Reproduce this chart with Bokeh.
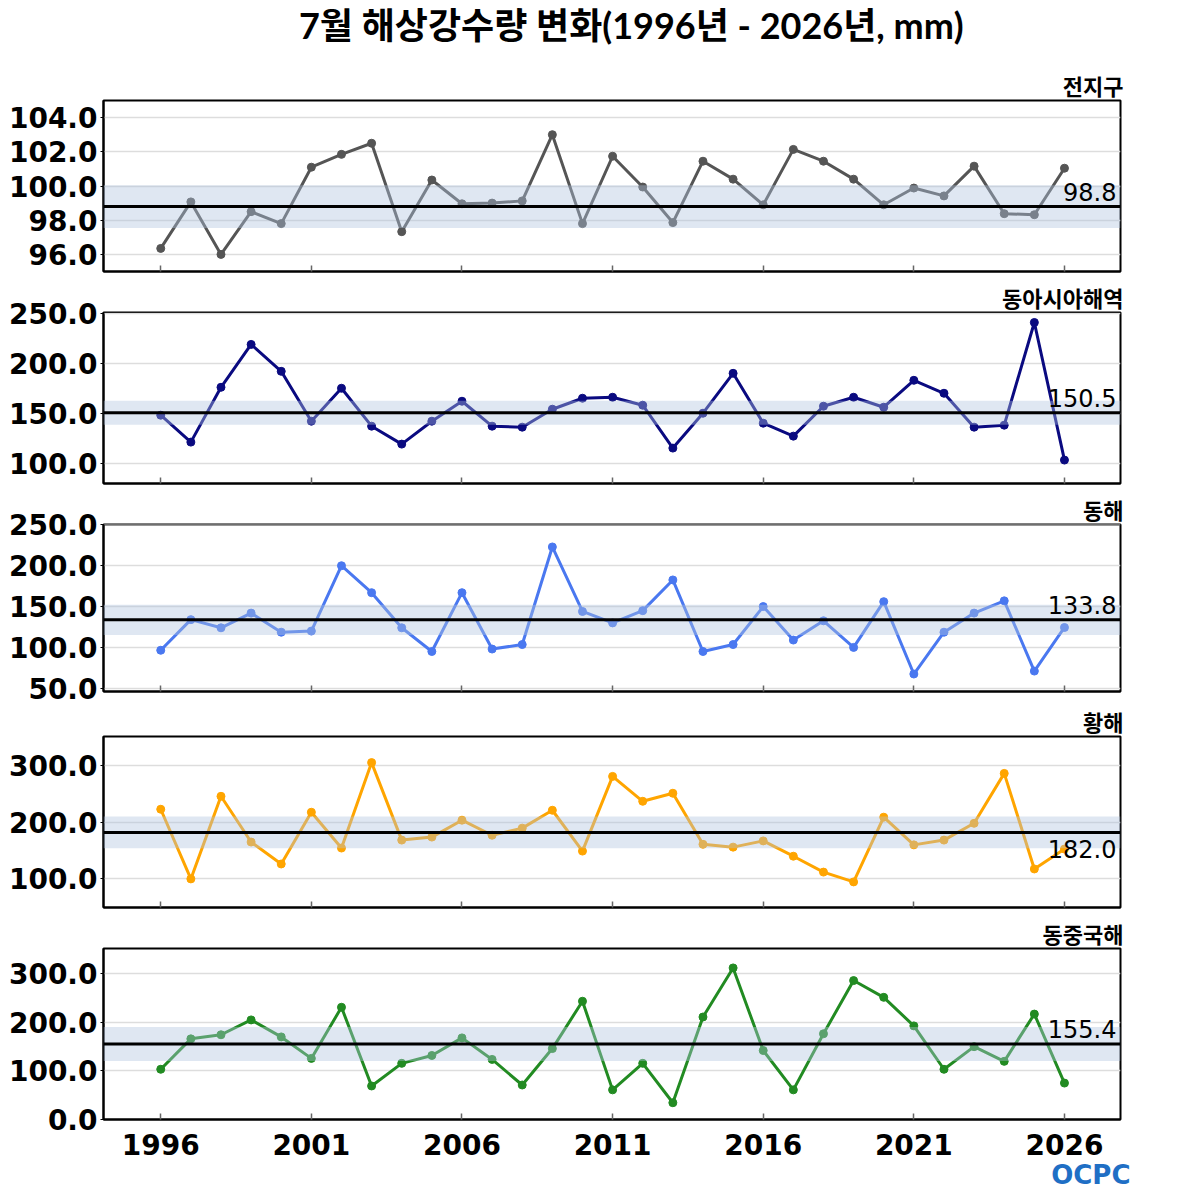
from bokeh.plotting import figure
from bokeh.layouts import column
from bokeh.models import (Range1d, BoxAnnotation, Span, Label, Title,
                          FixedTicker, PrintfTickFormatter, ColumnDataSource)
from bokeh.embed import file_html
from bokeh.resources import INLINE

# ---------------- data ----------------
years = list(range(1996, 2027))
main_title = "7월 해상강수량 변화(1996년 - 2026년, mm)"
region_names = ["전지구", "동아시아해역", "동해", "황해", "동중국해"]
logo_text = "OCPC"

global_vals = [96.35, 99.07, 96.0, 98.5, 97.8, 101.1, 101.85, 102.5, 97.33, 100.35,
               98.96, 99.0, 99.13, 103.0, 97.8, 101.74, 99.94, 97.86, 101.45, 100.4,
               98.9, 102.14, 101.45, 100.4, 98.9, 99.88, 99.42, 101.16, 98.38, 98.32,
               101.04]
east_asia_vals = [148, 121, 176, 219, 192, 142, 175, 137, 119, 142,
                  162, 137, 136, 154, 165, 166, 158, 115, 150, 190,
                  140, 127, 157, 166, 156, 183, 170, 136, 138, 241,
                  103]
east_sea_vals = [96.5, 134, 124, 142, 118.6, 120, 200, 167, 124, 95,
                 167, 98, 103.5, 223, 144, 130, 145, 182.6, 95, 103.5,
                 150, 109, 132.6, 100, 156, 67.4, 118.6, 142, 157, 71,
                 124.4]
yellow_sea_vals = [222.8, 100, 245.6, 165, 126.3, 217.5, 154.4, 305, 168.4, 173.7,
                   203.5, 177, 189.5, 221, 149, 280.7, 236.8, 251, 161, 156,
                   167, 140, 112, 94.7, 208.8, 160, 168.4, 198, 286, 117.5,
                   152.6]
ecs_vals = [103.4, 166, 174.4, 205, 170, 125.8, 231, 69, 115.6, 131.8,
            168, 123.7, 71, 146, 243.4, 61, 115.6, 34.5, 211, 312,
            142, 61, 176.5, 286, 251.5, 192.7, 103.4, 150, 119.7, 217,
            75]

means = [98.8, 150.5, 133.8, 182.0, 155.4]
band_half = [1.25, 12.0, 18.5, 28.0, 35.0]
y_ranges = [(95.0, 105.0), (79.5, 251.0), (46.0, 250.5), (49.6, 351.0), (0.0, 352.0)]
y_ticks = [[96, 98, 100, 102, 104], [100, 150, 200, 250], [50, 100, 150, 200, 250],
           [100, 200, 300], [0, 100, 200, 300]]
x_ticks = [1996, 2001, 2006, 2011, 2016, 2021, 2026]
line_colors = ["#555555", "#0a0a80", "#4a78f0", "#ffa500", "#228b22"]
label_above = [True, True, True, False, True]
series = [global_vals, east_asia_vals, east_sea_vals, yellow_sea_vals, ecs_vals]

# ---------------- layout ----------------
ML, MR = 103, 40
FIG_W = 1120 + MR
TOP = 30
FRAME_H = [172, 172, 168, 172, 172]
BOTS = [10, 10, 14, 10, 80]
X0, X1 = 1994.1, 2027.86
KR_FONT = "Lato, Noto Sans CJK KR"

# header figure carrying the main title
head_h = 99 - TOP
head = figure(width=1198, height=head_h, x_range=Range1d(0, 1), y_range=Range1d(0, 1),
              output_backend="svg", toolbar_location=None,
              min_border_left=0, min_border_right=0, min_border_top=0, min_border_bottom=0)
head.axis.visible = False
head.grid.visible = False
head.outline_line_color = None
head.title.text = main_title
head.title.align = "center"
head.title.text_font = KR_FONT
head.title.text_font_style = "bold"
head.title.text_font_size = "36px"
head.title.text_color = "black"
head.title.standoff = 0
head.scatter(x=[0.5], y=[0.5], size=0, alpha=0)

figs = [head]
for i in range(5):
    last = (i == 4)
    bot = BOTS[i]
    p = figure(width=FIG_W, height=TOP + FRAME_H[i] + bot, output_backend="svg",
               toolbar_location=None,
               x_range=Range1d(X0, X1), y_range=Range1d(*y_ranges[i]),
               min_border_left=ML, min_border_right=MR,
               min_border_top=TOP, min_border_bottom=bot)
    p.outline_line_color = "black"
    p.outline_line_width = 2
    p.xgrid.visible = False
    p.ygrid.grid_line_color = "#dddddd"
    p.ygrid.grid_line_width = 1.5

    # panel title above the frame, right aligned
    p.title.text = region_names[i]
    p.title.align = "right"
    p.title.text_font = KR_FONT
    p.title.text_font_style = "bold"
    p.title.text_font_size = "22px"
    p.title.text_color = "black"
    p.title.standoff = 2
    p.title.offset = -3

    # y axis
    p.yaxis.ticker = FixedTicker(ticks=y_ticks[i])
    p.yaxis.formatter = PrintfTickFormatter(format="%.1f")
    p.yaxis.axis_line_color = "black"
    p.yaxis.axis_line_width = 2
    p.yaxis.major_tick_line_color = "black"
    p.yaxis.major_tick_out = 3
    p.yaxis.major_tick_in = 0
    p.yaxis.minor_tick_line_color = None
    p.yaxis.major_label_text_font = "DejaVu Sans"
    p.yaxis.major_label_text_font_style = "bold"
    p.yaxis.major_label_text_font_size = "28px"
    p.yaxis.major_label_text_color = "black"
    p.yaxis.major_label_standoff = 3

    # x axis (labels only on the last panel)
    p.xaxis.ticker = FixedTicker(ticks=x_ticks)
    p.xaxis.axis_line_color = "black"
    p.xaxis.axis_line_width = 2
    p.xaxis.major_tick_line_color = "#666666"
    p.xaxis.major_tick_line_width = 1.5
    p.xaxis.major_tick_in = 6
    p.xaxis.major_tick_out = 0
    p.xaxis.minor_tick_line_color = None
    p.xaxis.major_label_text_font = "DejaVu Sans"
    p.xaxis.major_label_text_font_style = "bold"
    p.xaxis.major_label_text_font_size = "28px"
    p.xaxis.major_label_text_color = "black"
    if last:
        p.xaxis.major_label_standoff = 14
    else:
        p.xaxis.major_label_overrides = {t: "" for t in x_ticks}
        p.xaxis.major_label_standoff = 0

    # data
    src = ColumnDataSource(dict(x=years, y=series[i]))
    p.line("x", "y", source=src, line_color=line_colors[i], line_width=3)
    p.scatter("x", "y", source=src, size=8, fill_color=line_colors[i],
              line_color=line_colors[i])

    # band and mean line drawn over the series
    p.add_layout(BoxAnnotation(bottom=means[i] - band_half[i], top=means[i] + band_half[i],
                               fill_color="lightsteelblue", fill_alpha=0.4,
                               line_color=None))
    p.add_layout(Span(location=means[i], dimension="width", line_color="black",
                      line_width=3))
    if label_above[i]:
        p.add_layout(Label(x=X1, y=means[i], text=f"{means[i]:.1f}", x_offset=-4,
                           text_align="right", text_baseline="alphabetic",
                           y_offset=15, text_font="DejaVu Sans",
                           text_font_size="24px", text_color="black"))
    else:
        p.add_layout(Label(x=X1, y=means[i], text=f"{means[i]:.1f}", x_offset=-4,
                           text_align="right", text_baseline="top",
                           y_offset=-8, text_font="DejaVu Sans",
                           text_font_size="24px", text_color="black"))

    if last:
        p.add_layout(Title(text=logo_text, align="right", offset=-10, standoff=0,
                           text_font="DejaVu Sans", text_font_style="bold",
                           text_font_size="26px", text_color="#1f6fc5"), "below")
    figs.append(p)

layout = column(*figs, spacing=0)
open("out.html", "w").write(file_html(layout, INLINE))
